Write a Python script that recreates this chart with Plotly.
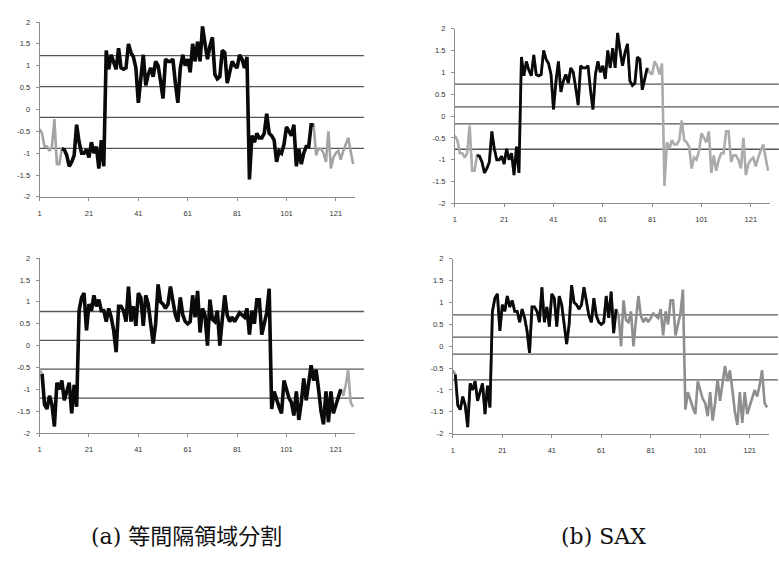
import plotly.graph_objects as go

# Time index shared by both series
t = list(range(1, 129))

# Series A (top row)
series_a = [
    -0.45, -0.55, -0.85, -0.85, -0.95, -0.85, -0.22, -1.25, -1.25, -0.90,
    -0.92, -1.05, -1.30, -1.20, -1.05, -0.35, -0.75, -1.00, -1.00, -0.92,
    -1.10, -0.75, -1.00, -0.85, -1.35, -0.70, -1.30, 1.35, 0.92, 1.25,
    1.05, 0.92, 1.40, 0.95, 0.92, 0.95, 1.50, 1.30, 1.20, 0.95,
    0.15, 0.80, 1.25, 0.55, 0.80, 0.95, 0.75, 1.10, 1.00, 0.65,
    0.25, 1.15, 1.10, 1.10, 1.15, 0.60, 0.15, 0.95, 1.25, 1.00,
    1.15, 0.85, 1.50, 1.10, 1.55, 1.10, 1.90, 1.50, 1.15, 1.45,
    1.65, 0.80, 0.70, 0.75, 1.35, 1.30, 0.60, 0.85, 1.10, 1.00,
    0.95, 1.25, 1.15, 0.95, 1.20, -1.60, -0.60, -0.75, -0.55, -0.65,
    -0.65, -0.55, -0.10, -0.55, -0.60, -0.70, -1.20, -0.95, -1.00, -0.80,
    -0.40, -0.50, -0.60, -0.35, -1.30, -0.90, -1.25, -1.00, -0.85, -0.85,
    -0.35, -0.35, -1.05, -0.90, -0.90, -1.00, -1.20, -0.50, -1.35, -1.10,
    -1.00, -0.95, -1.15, -0.95, -0.80, -0.65, -0.95, -1.25,
]

# Series B (bottom row)
series_b = [
    -0.55, -0.65, -1.35, -1.45, -1.15, -1.35, -1.85, -0.85, -1.00, -0.80,
    -1.25, -1.05, -0.85, -1.55, -0.90, -1.40, 0.80, 1.10, 1.20, 0.35,
    0.95, 0.80, 1.15, 0.90, 1.05, 0.80, 0.80, 0.55, 0.85, 0.65,
    0.35, -0.15, 0.90, 0.90, 0.80, 0.55, 1.35, 0.55, 0.90, 0.45,
    1.20, 1.10, 0.45, 1.15, 0.95, 0.50, 0.05, 0.50, 1.40, 1.00,
    0.95, 0.85, 0.95, 1.35, 1.00, 0.70, 0.55, 1.10, 0.70, 0.55,
    0.50, 0.55, 1.15, 0.65, 1.25, 0.30, 0.85, 0.70, 0.00, 1.05,
    0.60, 0.55, 0.80, 0.00, 0.60, 1.15, 0.70, 0.55, 0.65, 0.55,
    0.65, 0.75, 0.70, 0.65, 0.85, 0.25, 0.80, 0.50, 1.05, 1.05,
    0.25, 0.50, 0.75, 1.30, -1.45, -1.05, -1.25, -1.40, -1.55, -0.80,
    -1.00, -1.20, -1.30, -1.60, -1.05, -1.70, -1.30, -0.75, -1.25, -0.85,
    -0.45, -0.80, -0.55, -1.00, -1.50, -1.80, -1.05, -1.75, -1.05, -1.55,
    -1.35, -1.20, -1.00, -1.15, -0.90, -0.55, -1.30, -1.40,
]

# Highlighted (start, end) index ranges, 1-based inclusive
seg_a_equal = (10, 112)
seg_a_sax = (10, 79)
seg_b_equal = (2, 123)
seg_b_sax = (2, 67)

# Breakpoint levels for each panel
levels_a_equal = [-0.89, -0.18, 0.52, 1.23]
levels_a_sax = [-0.76, -0.18, 0.21, 0.73]
levels_b_equal = [-1.20, -0.54, 0.12, 0.78]
levels_b_sax = [-0.77, -0.18, 0.21, 0.72]

x_ticks = [1, 21, 41, 61, 81, 101, 121]
y_ticks = [-2, -1.5, -1, -0.5, 0, 0.5, 1, 1.5, 2]
y_labels = ["-2", "-1.5", "-1", "-0.5", "0", "0.5", "1", "1.5", "2"]

captions = ["(a) 等間隔領域分割", "(b) SAX"]

W, H = 779, 562

# name: (series, segment, levels, x-domain px, y-domain px (top, bottom), grey, black width)
panels = [
    ("", series_a, seg_a_equal, levels_a_equal, (37.7, 354), (18.3, 196), "#a3a3a3", 3.6),
    ("2", series_a, seg_a_sax, levels_a_sax, (454, 770), (25, 202.7), "#ababab", 2.8),
    ("3", series_b, seg_b_equal, levels_b_equal, (37.7, 354), (258.3, 436), "#a8a8a8", 3.6),
    ("4", series_b, seg_b_sax, levels_b_sax, (452, 769), (259, 436.7), "#8e8e8e", 2.8),
]

fig = go.Figure()
shapes = []
layout_axes = {}
tick_font = dict(family="Liberation Sans, Arial, sans-serif", size=7.5, color="#333333")

for suffix, series, seg, levels, xd, yd, grey, bw in panels:
    xa = "x" + suffix
    ya = "y" + suffix
    # full series in grey
    fig.add_trace(go.Scatter(
        x=t, y=series, mode="lines", xaxis=xa, yaxis=ya,
        line=dict(color=grey, width=2.6), hoverinfo="skip", showlegend=False))
    # highlighted subsequence in black
    s, e = seg
    fig.add_trace(go.Scatter(
        x=t[s - 1:e], y=series[s - 1:e], mode="lines", xaxis=xa, yaxis=ya,
        line=dict(color="#0a0a0a", width=bw), hoverinfo="skip", showlegend=False))
    for lv in levels:
        shapes.append(dict(
            type="line", xref=xa + " domain", yref=ya, x0=0, x1=1.028, y0=lv, y1=lv,
            line=dict(color="#555555", width=1.3), layer="below"))
    layout_axes["xaxis" + suffix] = dict(
        domain=[xd[0] / W, xd[1] / W], range=[1, 128.8], anchor=ya,
        tickvals=x_ticks, ticktext=[str(v) for v in x_ticks],
        showgrid=False, zeroline=False, showline=True, linecolor="#8c8c8c", linewidth=1,
        ticks="outside", ticklen=3, tickcolor="#8c8c8c", tickfont=tick_font,
        ticklabelstandoff=6, fixedrange=True)
    layout_axes["yaxis" + suffix] = dict(
        domain=[1 - yd[1] / H, 1 - yd[0] / H], range=[-2, 2], anchor=xa,
        tickvals=y_ticks, ticktext=y_labels,
        showgrid=False, zeroline=False, showline=True, linecolor="#8c8c8c", linewidth=1,
        ticks="outside", ticklen=3, tickcolor="#8c8c8c", tickfont=tick_font,
        ticklabelstandoff=4, fixedrange=True)

caption_font = dict(family="DejaVu Serif, Noto Sans CJK JP, serif", size=22, color="#111111")
annotations = [
    dict(text=captions[0], x=185 / W, y=1 - 541 / H, xref="paper", yref="paper",
         showarrow=False, xanchor="center", yanchor="middle", font=caption_font),
    dict(text=captions[1], x=603 / W, y=1 - 541 / H, xref="paper", yref="paper",
         showarrow=False, xanchor="center", yanchor="middle", font=caption_font),
]

fig.update_layout(
    width=W, height=H, margin=dict(l=0, r=0, t=0, b=0),
    paper_bgcolor="white", plot_bgcolor="white",
    shapes=shapes, annotations=annotations, showlegend=False,
    **layout_axes)

fig.write_html("out.html")
